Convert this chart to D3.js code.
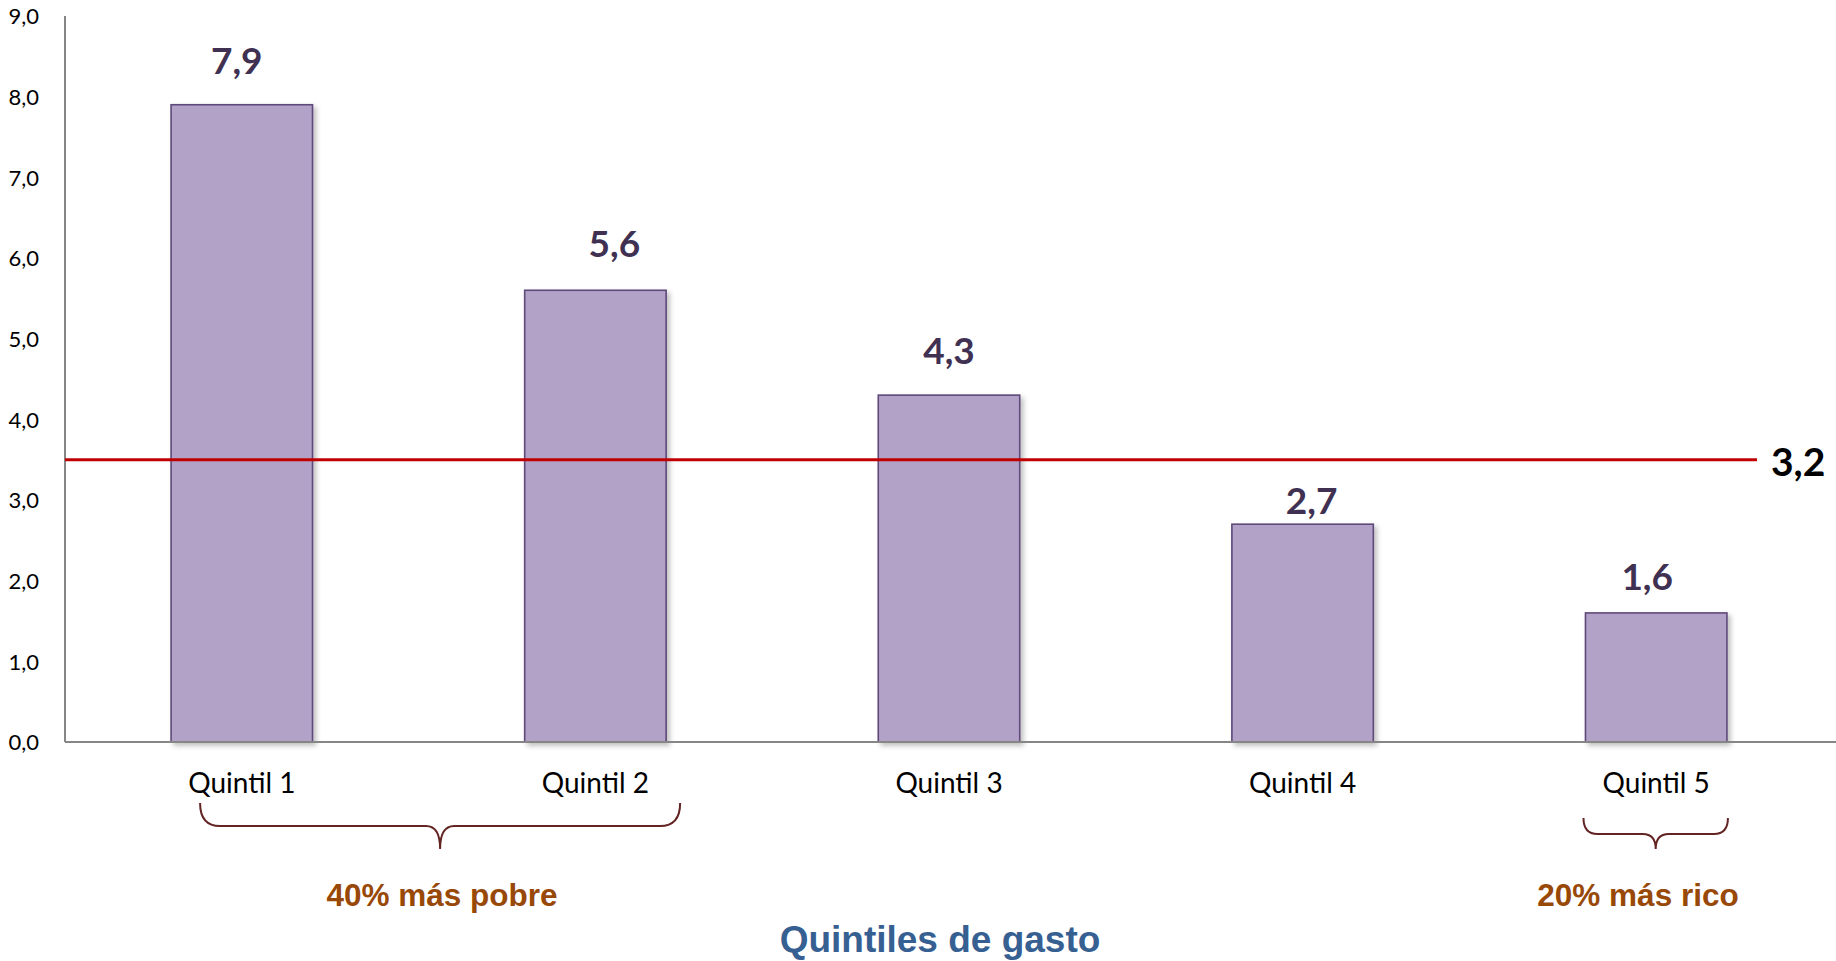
<!DOCTYPE html>
<html>
<head>
<meta charset="utf-8">
<script src="https://cdn.jsdelivr.net/npm/d3@7"></script>
<style>
  html, body { margin: 0; padding: 0; background: #fff; }
  svg { display: block; }
</style>
</head>
<body>
<svg id="chart" width="1836" height="961"></svg>
<script>
// ---- data ----
const categories = ["Quintil 1", "Quintil 2", "Quintil 3", "Quintil 4", "Quintil 5"];
const values = [7.9, 5.6, 4.3, 2.7, 1.6];
const valueLabels = ["7,9", "5,6", "4,3", "2,7", "1,6"];
const yTicks = [0, 1, 2, 3, 4, 5, 6, 7, 8, 9];
const yTickLabels = ["0,0", "1,0", "2,0", "3,0", "4,0", "5,0", "6,0", "7,0", "8,0", "9,0"];
const avgLabel = "3,2";
const avgLinePosition = 3.5;   // where the reference line is drawn in the original
const groupLabels = ["40% más pobre", "20% más rico"];
const groupMembers = [[0, 1], [4]];
const axisTitle = "Quintiles de gasto";

// ---- layout ----
const W = 1836, H = 961;
const mLeft = 65, mRight = 1833, mTop = 16, mBottom = 742;
const labelGap = [31, 33, 31, 10, 23];
const labelDx = [-5, 19, 0, 9, -9];

const svg = d3.select("#chart");
const defs = svg.append("defs");
const f = defs.append("filter").attr("id", "shadow").attr("x", "-10%").attr("y", "-10%").attr("width", "130%").attr("height", "130%");
f.append("feDropShadow").attr("dx", 3).attr("dy", 3).attr("stdDeviation", 2.5).attr("flood-color", "#000").attr("flood-opacity", 0.25);

const x = d3.scaleBand().domain(categories).range([mLeft, mRight]).paddingInner(0.6).paddingOuter(0.3);
const y = d3.scaleLinear().domain([0, 9]).range([mBottom, mTop]);

// y axis labels
const yAxis = d3.axisLeft(y).tickValues(yTicks).tickFormat((d, i) => yTickLabels[i]).tickSize(0).tickPadding(26);
const gy = svg.append("g").attr("transform", `translate(${mLeft},0)`).call(yAxis);
gy.select(".domain").remove();
gy.selectAll("text").attr("font-family", "Lato, sans-serif").attr("font-size", 22).attr("fill", "#000").attr("dy", "0.35em");

// bars
svg.append("g").selectAll("rect").data(values).join("rect")
  .attr("x", (d, i) => x(categories[i]))
  .attr("y", d => y(d))
  .attr("width", x.bandwidth())
  .attr("height", d => y(0) - y(d))
  .attr("fill", "#b2a2c7")
  .attr("stroke", "#5f497a")
  .attr("stroke-width", 1.6)
  .attr("filter", "url(#shadow)");

// axis lines
svg.append("line").attr("x1", mLeft).attr("x2", mLeft).attr("y1", y(9)).attr("y2", y(0))
  .attr("stroke", "#868686").attr("stroke-width", 2);
svg.append("line").attr("x1", mLeft).attr("x2", W).attr("y1", y(0)).attr("y2", y(0))
  .attr("stroke", "#868686").attr("stroke-width", 2);

// value labels
svg.append("g").selectAll("text").data(values).join("text")
  .attr("x", (d, i) => x(categories[i]) + x.bandwidth() / 2 + labelDx[i])
  .attr("y", (d, i) => y(d) - labelGap[i])
  .attr("text-anchor", "middle")
  .attr("font-family", "Lato, sans-serif").attr("font-weight", "bold").attr("font-size", 37)
  .attr("fill", "#403152")
  .text((d, i) => valueLabels[i]);

// x category labels
const xAxis = d3.axisBottom(x).tickSize(0).tickPadding(0);
const gx = svg.append("g").attr("transform", `translate(0,${mBottom})`).call(xAxis);
gx.select(".domain").remove();
gx.selectAll("text").attr("font-family", "Lato, sans-serif").attr("font-size", 28).attr("fill", "#000")
  .attr("dy", null).attr("y", 51);

// average line
svg.append("line").attr("x1", mLeft).attr("x2", 1757).attr("y1", y(avgLinePosition)).attr("y2", y(avgLinePosition))
  .attr("stroke", "#c00000").attr("stroke-width", 3);
svg.append("text").attr("x", 1771).attr("y", y(avgLinePosition) + 16)
  .attr("font-family", "Lato, sans-serif").attr("font-weight", "bold").attr("font-size", 39).attr("fill", "#000")
  .text(avgLabel);

// brackets
const bracketSpecs = [
  { x0: x(categories[0]) + 29, x1: x(categories[1]) + x.bandwidth() + 14, yTop: 803, yMid: 826, yTip: 849, r: 20, rc: 14 },
  { x0: x(categories[4]) - 2, x1: x(categories[4]) + x.bandwidth() + 1, yTop: 818, yMid: 834, yTip: 849, r: 14, rc: 13 }
];
function bracePath(b) {
  const cx = (b.x0 + b.x1) / 2;
  return `M${b.x0},${b.yTop} Q${b.x0},${b.yMid} ${b.x0 + b.r},${b.yMid} L${cx - b.rc},${b.yMid} Q${cx},${b.yMid} ${cx},${b.yTip} ` +
         `Q${cx},${b.yMid} ${cx + b.rc},${b.yMid} L${b.x1 - b.r},${b.yMid} Q${b.x1},${b.yMid} ${b.x1},${b.yTop}`;
}
svg.append("g").selectAll("path").data(bracketSpecs).join("path")
  .attr("d", bracePath).attr("fill", "none").attr("stroke", "#632523").attr("stroke-width", 2);

const groupTextX = [442, 1638];
svg.append("g").selectAll("text").data(groupLabels).join("text")
  .attr("x", (d, i) => groupTextX[i]).attr("y", 906)
  .attr("text-anchor", "middle")
  .attr("font-family", "'Liberation Sans', Arial, sans-serif").attr("font-weight", "bold").attr("font-size", 31.5)
  .attr("fill", "#984807")
  .text(d => d);

// axis title
svg.append("text").attr("x", 940).attr("y", 952).attr("text-anchor", "middle")
  .attr("font-family", "'Liberation Sans', Arial, sans-serif").attr("font-weight", "bold").attr("font-size", 37)
  .attr("fill", "#376092").text(axisTitle);
</script>
</body>
</html>
